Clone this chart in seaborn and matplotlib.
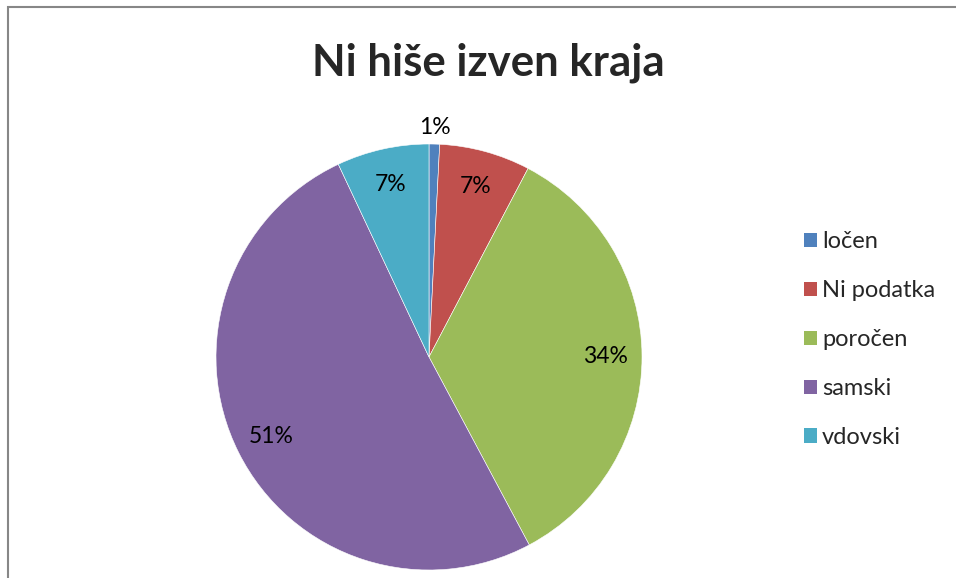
import numpy as np
import seaborn as sns
import matplotlib.pyplot as plt
from matplotlib.patches import Rectangle, Patch

labels = ['ločen', 'Ni podatka', 'poročen', 'samski', 'vdovski']
shares = [0.8, 6.9, 34.5, 50.8, 7.0]
colors = ['#4F81BD', '#C0504D', '#9BBB59', '#8064A2', '#4BACC6']

sns.set_style('white')
plt.rcParams['font.family'] = ['Lato', 'DejaVu Sans']

W, H = 956, 578
fig = plt.figure(figsize=(W / 100, H / 100), dpi=100)

# chart frame (cut off at right and bottom like the screenshot)
fig.patches.append(Rectangle((7.5 / W, -0.1), 2, 1 - 7.5 / H + 0.1,
                             transform=fig.transFigure, fill=False,
                             edgecolor='#878787', linewidth=1.5))

cx, cy, r = 429, 357, 213
ax = fig.add_axes([(cx - r) / W, (H - cy - r) / H, 2 * r / W, 2 * r / H])
wedges, texts, autotexts = ax.pie(shares, colors=colors, startangle=90, counterclock=False,
                                  autopct='%1.0f%%', pctdistance=0.83,
                                  wedgeprops=dict(edgecolor='white', linewidth=0.4),
                                  textprops=dict(fontsize=16.5, color='black'))
ax.set_xlim(-1, 1)
ax.set_ylim(-1, 1)
ax.set_aspect('equal')
ax.axis('off')

# small slice gets its label outside
w = wedges[0]
ang = np.deg2rad((w.theta1 + w.theta2) / 2)
autotexts[0].set_position((1.08 * np.cos(ang), 1.08 * np.sin(ang)))
for t in autotexts:
    t.set_clip_on(False)

fig.text(488 / W, 1 - 63 / H, 'Ni hiše izven kraja', ha='center', va='center',
         fontsize=31.5, fontweight='bold')

handles = [Patch(facecolor=c, edgecolor='none') for c in colors]
fig.legend(handles, labels, loc='upper left', bbox_to_anchor=(795 / W, 1 - 222 / H),
           frameon=False, fontsize=17, handlelength=0.55, handleheight=0.55,
           handletextpad=0.2, labelspacing=1.18, borderaxespad=0)

fig.savefig('out.png', dpi=100)
